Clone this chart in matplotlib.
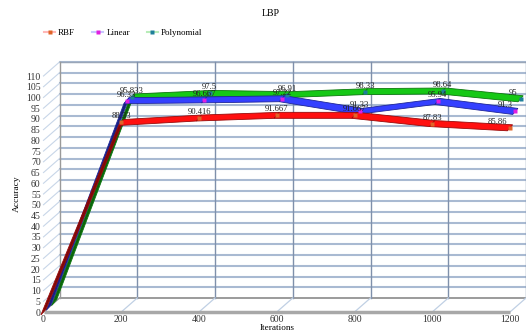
import numpy as np
import matplotlib.pyplot as plt
from matplotlib.lines import Line2D
from matplotlib.colors import to_rgb

plt.rcParams['font.family'] = ['Liberation Serif', 'DejaVu Serif']

iterations = [0, 200, 400, 600, 800, 1000, 1200]
rbf = [0, 88.33, 90.416, 91.667, 91.667, 87.83, 85.86]
linear = [0, 96.33, 96.667, 97.22, 91.33, 95.94, 91.3]
poly = [0, 95.833, 97.5, 96.91, 98.33, 98.64, 95]
rbf_labels = ["", "88.33", "90.416", "91.667", "91.667", "87.83", "85.86"]
linear_labels = ["", "96.33", "96.667", "97.22", "91.33", "95.94", "91.3"]
poly_labels = ["", "95.833", "97.5", "96.91", "98.33", "98.64", "95"]

W, H = 526, 333
fig = plt.figure(figsize=(W / 100, H / 100), dpi=100)
x0, x1, yb, yt = 43.5, 510, 312, 76
ax = fig.add_axes([x0 / W, 1 - yb / H, (x1 - x0) / W, (yb - yt) / H])
ax.set_xlim(0, 1200)
ax.set_ylim(0, 110)
for s in ax.spines.values():
    s.set_visible(False)

# pixel -> data
px_x = 1200 / (x1 - x0)
px_y = 110 / (yb - yt)
wall_dx, wall_dy = 16 * px_x, 14 * px_y

# back wall grid
hc = '#a9bad2'
vc = '#7f90ab'
for v in np.arange(5, 111, 5):
    ax.plot([wall_dx, 1200 + wall_dx], [v + wall_dy] * 2, color=hc, lw=1.5, clip_on=False, zorder=1)
    ax.plot([0, wall_dx], [v, v + wall_dy], color='#c8d6e8', lw=0.8, clip_on=False, zorder=1)
ax.plot([wall_dx, 1200 + wall_dx], [wall_dy] * 2, color='#8a8a8a', lw=1.2, clip_on=False, zorder=1)
ax.plot([wall_dx, 1200 + wall_dx], [110 + wall_dy] * 2, color='#9aa6b8', lw=1, clip_on=False, zorder=1)
for xv in iterations:
    c = '#9a9a9a' if xv == 0 else vc
    ax.plot([xv + wall_dx] * 2, [wall_dy, 110 + wall_dy], color=c, lw=1, clip_on=False, zorder=1)
    ax.plot([xv, xv + wall_dx], [0, wall_dy], color='#c0d0e4', lw=0.9, clip_on=False, zorder=1)
ax.plot([0, wall_dx], [0, wall_dy], color='#9a9a9a', lw=1, clip_on=False, zorder=1)
ax.plot([0, 1200], [0, 0], color='#a8a8a8', lw=2.5, clip_on=False, zorder=2, solid_capstyle='butt')

series = [
    (rbf, rbf_labels, '#ff1010', '#e06428', 0),
    (linear, linear_labels, '#3440ff', '#e020e0', 1),
    (poly, poly_labels, '#16c816', '#1f7f9a', 2),
]
step_dx, step_dy = 5.3 * px_x, 4.7 * px_y
rib_dx, rib_dy = 2.6 * px_x, 3.0 * px_y

for vals, labs, col, mcol, depth in reversed(series):
    xs = np.array(iterations, float) + depth * step_dx
    ys = np.array(vals, float) + depth * step_dy
    base = np.array(to_rgb(col))
    for i in range(len(xs) - 1):
        ddx = (xs[i + 1] - xs[i]) / px_x
        ddy = (ys[i + 1] - ys[i]) / px_y
        steep = abs(ddy) / (abs(ddx) + 1e-9)
        shade = base * 0.5 if steep > 2 else base
        px = [xs[i] - rib_dx, xs[i + 1] - rib_dx, xs[i + 1] + rib_dx, xs[i] + rib_dx]
        py = [ys[i] - rib_dy, ys[i + 1] - rib_dy, ys[i + 1] + rib_dy, ys[i] + rib_dy]
        ax.fill(px, py, color=shade, lw=0.6, ec=base * 0.6, clip_on=False, zorder=3 + (2 - depth))
    ax.plot(xs[1:], ys[1:], 's', ms=2.5, color=mcol, mec='none', clip_on=False, zorder=6)
    for i, t in enumerate(labs):
        if not t:
            continue
        if i == len(labs) - 1:
            ax.text(xs[i] - 3 * px_x, ys[i] + 2 * px_y, t, ha='right', va='bottom', fontsize=6.2,
                    color='#222222', zorder=7)
        else:
            ax.text(xs[i], ys[i] + 2 * px_y, t, ha='center', va='bottom', fontsize=6.2,
                    color='#222222', zorder=7)

ax.set_xticks(iterations)
ax.set_yticks(np.arange(0, 111, 5))
ax.tick_params(length=0, labelsize=7, colors='#333333')
ax.tick_params(axis='x', pad=2.5)
ax.tick_params(axis='y', pad=2)
ax.set_xlabel("Iterations", fontsize=6.6, labelpad=-0.5)
ax.set_ylabel("Accuracy", fontsize=6.8, labelpad=4)

fig.text(271 / W, 1 - 14 / H, "LBP", ha='center', va='center', fontsize=7)

handles = [
    Line2D([], [], color='#ffb8b8', lw=1.5, marker='s', ms=2.5, mfc='#e06428', mec='none'),
    Line2D([], [], color='#c8c8ff', lw=1.5, marker='s', ms=2.5, mfc='#e020e0', mec='none'),
    Line2D([], [], color='#b8ecb8', lw=1.5, marker='s', ms=2.5, mfc='#1f7f9a', mec='none'),
]
fig.legend(handles, ["RBF", "Linear", "Polynomial"], loc='center left',
           bbox_to_anchor=(36 / W, 1 - 33 / H), ncol=3, frameon=False, fontsize=6.5,
           handlelength=1.2, handletextpad=0.35, columnspacing=1.9)

fig.savefig("out.png", dpi=100)
